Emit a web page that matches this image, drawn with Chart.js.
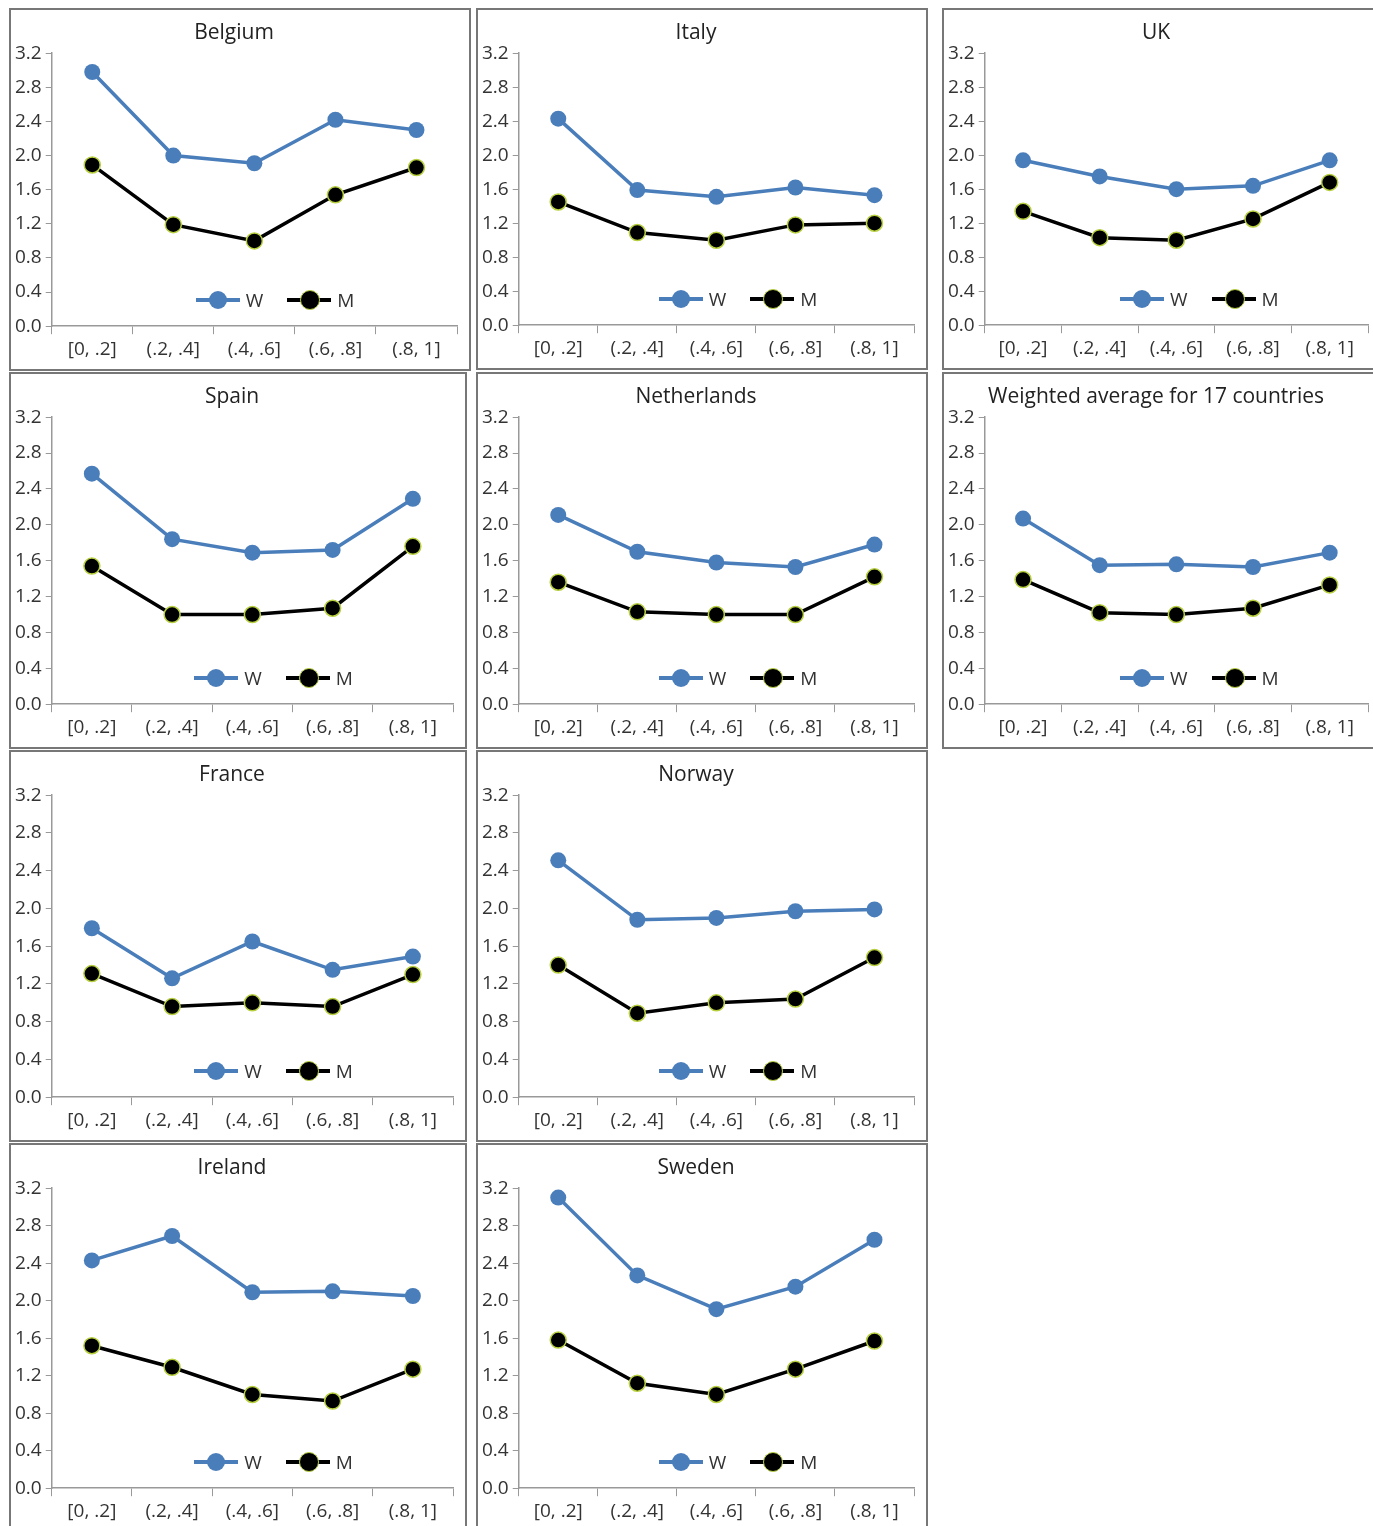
<!DOCTYPE html>
<html><head><meta charset="utf-8">
<script src="https://cdn.jsdelivr.net/npm/chart.js@4.4.0/dist/chart.umd.min.js"></script>
<style>
body{margin:0;background:#fff;font-family:"Open Sans",sans-serif;}
.p{position:absolute;border:2px solid #777;box-sizing:border-box;background:#fff;}
.p canvas{position:absolute;left:0;top:0;}
.lg{position:absolute;font-size:19px;color:#333;display:flex;align-items:center;gap:6px;}
.sw{display:inline-block;width:44px;height:4px;position:relative;}
.sw i{position:absolute;left:13px;top:-7px;width:18px;height:18px;border-radius:50%;}
</style></head><body>
<script>
const categories = ["[0, .2]", "(.2, .4]", "(.4, .6]", "(.6, .8]", "(.8, 1]"];
const yTicks = [0, 0.4, 0.8, 1.2, 1.6, 2.0, 2.4, 2.8, 3.2];
const titles = ["Belgium","Italy","UK","Spain","Netherlands","Weighted average for 17 countries","France","Norway","Ireland","Sweden"];
const womenValues = [
  [2.98,2.00,1.91,2.42,2.30],
  [2.43,1.59,1.51,1.62,1.53],
  [1.94,1.75,1.60,1.64,1.94],
  [2.57,1.84,1.69,1.72,2.29],
  [2.11,1.70,1.58,1.53,1.78],
  [2.07,1.55,1.56,1.53,1.69],
  [1.79,1.26,1.65,1.35,1.49],
  [2.51,1.88,1.90,1.97,1.99],
  [2.43,2.69,2.09,2.10,2.05],
  [3.10,2.27,1.91,2.15,2.65]
];
const menValues = [
  [1.89,1.19,1.00,1.54,1.86],
  [1.45,1.09,1.00,1.18,1.20],
  [1.34,1.03,1.00,1.25,1.68],
  [1.54,1.00,1.00,1.07,1.76],
  [1.36,1.03,1.00,1.00,1.42],
  [1.39,1.02,1.00,1.07,1.33],
  [1.31,0.96,1.00,0.96,1.30],
  [1.40,0.89,1.00,1.04,1.48],
  [1.52,1.29,1.00,0.93,1.27],
  [1.58,1.12,1.00,1.27,1.57]
];
// panel boxes [left, top, width, height]
const boxes = [
  [9,8,462,363],[476,8,452,362],[942,8,440,362],
  [9,372,458,377],[476,372,452,377],[942,372,440,377],
  [9,750,458,392],[476,750,452,392],
  [9,1143,458,390],[476,1143,452,390]
];
const blue = "#4a7ebb";

titles.forEach((t, i) => {
  const [x, y, w, h] = boxes[i];
  const div = document.createElement("div");
  div.className = "p";
  Object.assign(div.style, {left: x + "px", top: y + "px", width: w + "px", height: h + "px"});
  const c = document.createElement("canvas");
  div.appendChild(c);
  const lg = document.createElement("div");
  lg.className = "lg";
  lg.innerHTML = '<span class="sw" style="background:' + blue + '"><i style="background:' + blue + '"></i></span>W' +
    '<span class="sw" style="background:#000;margin-left:18px"><i style="background:#000;border:1px solid #b8d040;top:-8px"></i></span>M';
  lg.style.left = (w * 0.40) + "px";
  lg.style.top = (h - 86) + "px";
  div.appendChild(lg);
  document.body.appendChild(div);

  new Chart(c, {
    type: "line",
    data: {
      labels: categories,
      datasets: [{
        label: "W", data: womenValues[i], borderColor: blue, backgroundColor: blue,
        borderWidth: 3.5, pointRadius: 8, pointBorderWidth: 0
      }, {
        label: "M", data: menValues[i], borderColor: "#000", backgroundColor: "#000",
        borderWidth: 3.5, pointRadius: 8, pointBorderColor: "#b8d040", pointBorderWidth: 1.5
      }]
    },
    options: {
      animation: false,
      responsive: true,
      maintainAspectRatio: false,
      layout: {padding: {left: 0, right: 12, top: 4, bottom: 4}},
      plugins: {
        legend: {display: false},
        tooltip: {enabled: false},
        title: {display: true, text: t, color: "#222", font: {family: "Open Sans", size: 21, weight: "normal"}, padding: {top: 6, bottom: 8}}
      },
      scales: {
        x: {
          offset: true,
          grid: {display: true, drawOnChartArea: false, offset: true, tickLength: 8, color: "#999"},
          border: {color: "#999", width: 1.5},
          ticks: {color: "#333", font: {family: "Open Sans", size: 19}, maxRotation: 0, padding: 4}
        },
        y: {
          min: 0, max: 3.2,
          afterBuildTicks: s => { s.ticks = yTicks.map(v => ({value: v})); },
          grid: {display: true, drawOnChartArea: false, tickLength: 6, color: "#999"},
          border: {color: "#999", width: 1.5},
          ticks: {color: "#333", font: {family: "Open Sans", size: 19}, padding: 4, callback: v => v.toFixed(1)}
        }
      }
    }
  });
});
</script>
</body></html>
